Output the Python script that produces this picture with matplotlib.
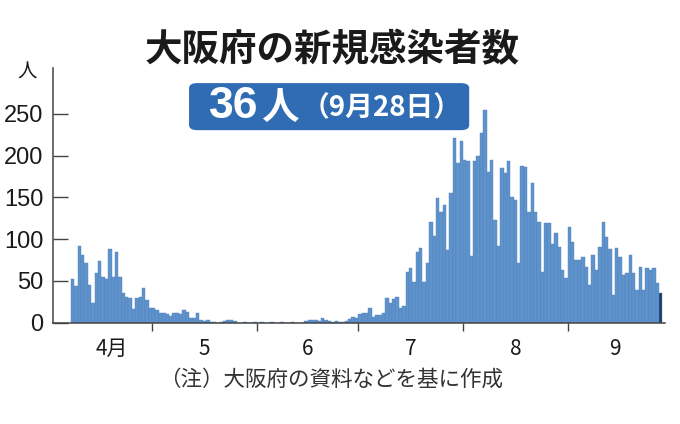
import numpy as np
import matplotlib
matplotlib.use('Agg')
import matplotlib.pyplot as plt
from matplotlib.patches import FancyBboxPatch

plt.rcParams['font.family'] = ['Noto Sans CJK JP', 'DejaVu Sans']

# daily new cases, Apr 7 - Sep 28
apr = [52, 44, 92, 81, 71, 45, 24, 59, 74, 55, 52, 88, 55, 84, 55, 35, 31, 29, 16, 29, 31, 41, 27, 17]
may = [17, 15, 12, 11, 10, 8, 12, 11, 10, 15, 13, 6, 5, 11, 3, 2, 3, 1, 1, 0, 1, 2, 3, 3, 2, 0, 0, 1, 0, 0, 1]
jun = [0, 1, 0, 0, 1, 0, 0, 1, 0, 0, 1, 0, 0, 0, 2, 3, 3, 3, 2, 5, 3, 2, 1, 2, 1, 1, 2, 4, 7, 5]
jul = [10, 12, 12, 17, 7, 9, 9, 12, 30, 23, 28, 31, 18, 20, 61, 65, 49, 85, 89, 49, 71, 121, 104, 149, 132, 141, 87, 155, 221, 191, 217]
aug = [195, 194, 80, 193, 199, 227, 255, 180, 195, 123, 92, 185, 179, 193, 151, 147, 71, 187, 186, 133, 167, 133, 121, 61, 119, 119, 94, 107, 91, 63, 53]
sep = [115, 97, 75, 75, 78, 67, 45, 81, 63, 91, 121, 103, 88, 33, 89, 79, 57, 59, 81, 59, 39, 67, 39, 65, 63, 65, 47, 36]

cases = apr + may + jun + jul + aug + sep
first_day = 6  # Apr 7 counted from Apr 1
month_starts = [30, 61, 91, 122, 153]
month_labels = ['4月', '5', '6', '7', '8', '9']
month_centers = [18, 45.5, 76, 106.5, 137.5, 167]
yticks = [0, 50, 100, 150, 200, 250]

days = np.arange(first_day, first_day + len(cases))
colors = ['#5f93cb'] * (len(cases) - 1) + ['#1d3c66']

fig = plt.figure(figsize=(6.8, 4.24), dpi=100)
ax = fig.add_axes([0.078, 0.239, 0.9, 0.601])

ax.bar(days, cases, width=1.0, align='edge', color=colors, edgecolor='#5283bd', linewidth=0.3)

ax.set_xlim(0.7, 181.8)
ax.set_ylim(0, 305)

for s in ['top', 'right']:
    ax.spines[s].set_visible(False)
for s in ['left', 'bottom']:
    ax.spines[s].set_color('#444444')
    ax.spines[s].set_linewidth(1.1)

ax.set_yticks(yticks)
ax.set_yticklabels([str(v) for v in yticks], family=['Liberation Sans', 'DejaVu Sans'], fontsize=17)
ax.tick_params(axis='y', direction='in', length=11, width=1.0, color='#444444', pad=7, labelcolor='#1a1a1a')

ax.set_xticks(month_starts)
ax.set_xticklabels([])
ax.tick_params(axis='x', which='major', direction='out', length=6, width=1.0, color='#444444')
ax.set_xticks(month_centers, minor=True)
ax.set_xticklabels(month_labels, minor=True, fontsize=15, color='#1a1a1a')
ax.tick_params(axis='x', which='minor', length=0, pad=11)

# unit
fig.text(0.04, 0.83, '人', fontsize=14, ha='center', va='center', color='#1a1a1a')

# title
fig.text(0.488, 0.882, '大阪府の新規感染者数', fontsize=27, fontweight='bold', ha='center', va='center', color='#1a1a1a')

# highlight box
box = FancyBboxPatch((0.278, 0.693), 0.412, 0.111, boxstyle='round,pad=0,rounding_size=0.012',
                     transform=fig.transFigure, facecolor='#2f6cb3', edgecolor='none')
fig.patches.append(box)
fig.text(0.308, 0.748, '36', fontsize=32, fontweight='bold', ha='left', va='center', color='white',
         family=['Liberation Sans', 'DejaVu Sans'])
fig.text(0.384, 0.745, '人', fontsize=27, fontweight='bold', ha='left', va='center', color='white')
fig.text(0.443, 0.745, '（9月28日）', fontsize=20, fontweight='bold', ha='left', va='center', color='white')

# note
fig.text(0.487, 0.104, '（注）大阪府の資料などを基に作成', fontsize=15.5, ha='center', va='center', color='#333333')

fig.savefig('out.png', dpi=100, facecolor='white')
